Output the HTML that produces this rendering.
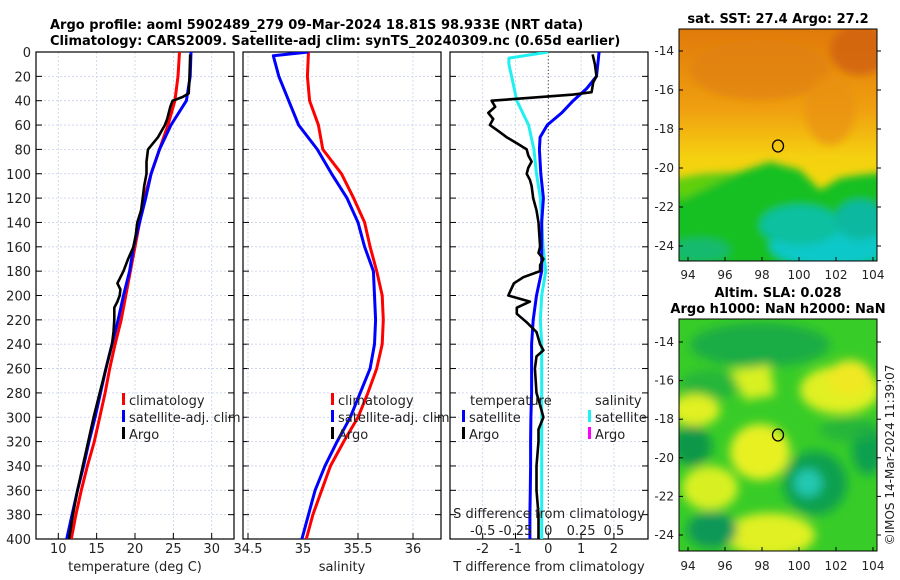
<!DOCTYPE html>
<html><head><meta charset="utf-8"><style>
html,body{margin:0;padding:0;background:#fff;}
svg{display:block;font-family:"DejaVu Sans","Liberation Sans",sans-serif;}
</style></head><body>
<svg id="fig" width="900" height="580" viewBox="0 0 900 580">
<defs>
<filter id="blur3" x="-10%" y="-10%" width="120%" height="120%"><feGaussianBlur stdDeviation="4"/></filter>
<filter id="blur6" x="-10%" y="-10%" width="120%" height="120%"><feGaussianBlur stdDeviation="5"/></filter>
<clipPath id="clipMap1"><rect x="679" y="29" width="198" height="232"/></clipPath>
<clipPath id="clipMap2"><rect x="679" y="319" width="198" height="232"/></clipPath>
<clipPath id="clipP1"><rect x="36" y="52" width="198" height="487"/></clipPath>
<clipPath id="clipP2"><rect x="243" y="52" width="198" height="487"/></clipPath>
<clipPath id="clipP3"><rect x="450" y="52" width="198" height="487"/></clipPath>
<linearGradient id="sstGrad" x1="0" y1="0" x2="0" y2="1">
<stop offset="0" stop-color="#e07a0a"/><stop offset="0.35" stop-color="#f0a010"/><stop offset="0.55" stop-color="#f5d010"/><stop offset="1" stop-color="#e8f000"/>
</linearGradient>
</defs>
<g font-weight="bold" font-size="13" fill="#000">
<text x="50" y="29">Argo profile: aoml 5902489_279 09-Mar-2024 18.81S 98.933E (NRT data)</text>
<text x="50" y="45">Climatology: CARS2009. Satellite-adj clim: synTS_20240309.nc (0.65d earlier)</text>
<text x="778" y="23" text-anchor="middle">sat. SST: 27.4 Argo: 27.2</text>
<text x="778" y="297" text-anchor="middle">Altim. SLA: 0.028</text>
<text x="778" y="313" text-anchor="middle">Argo h1000: NaN h2000: NaN</text>
</g>
<g id="panels"></g>
<g id="maps">
 <g clip-path="url(#clipMap1)">
  <rect x="679" y="29" width="198" height="232" fill="url(#sstGrad)"/>
  <g filter="url(#blur3)">
   <ellipse cx="760" cy="70" rx="70" ry="30" fill="#e08010" opacity="0.7"/>
   <ellipse cx="860" cy="50" rx="30" ry="25" fill="#d06010" opacity="0.8"/>
   <ellipse cx="830" cy="110" rx="25" ry="35" fill="#e89010" opacity="0.7"/>
   <polygon points="670,180 700,175 740,172 770,162 800,170 820,190 840,178 860,175 890,172 890,270 670,270" fill="#18c020"/>
   <polygon points="670,180 720,176 745,170 680,200" fill="#60d010"/>
   <ellipse cx="830" cy="245" rx="60" ry="22" fill="#10c8c8"/>
   <ellipse cx="800" cy="225" rx="40" ry="20" fill="#10c0a0"/>
   <ellipse cx="860" cy="220" rx="25" ry="20" fill="#10b8a0"/>
   <ellipse cx="700" cy="250" rx="30" ry="12" fill="#10b890" opacity="0.7"/>
  </g>
 </g>
 <rect x="679" y="29" width="198" height="232" fill="none" stroke="#000" stroke-width="1"/>
 <ellipse cx="778" cy="146" rx="5.5" ry="6" fill="none" stroke="#000" stroke-width="1.3"/>
 <g clip-path="url(#clipMap2)">
  <rect x="679" y="319" width="198" height="232" fill="#38cc28"/>
  <g filter="url(#blur6)">
   <ellipse cx="760" cy="345" rx="70" ry="22" fill="#18a848" opacity="0.9"/>
   <ellipse cx="710" cy="385" rx="30" ry="15" fill="#20b040" opacity="0.8"/>
   <polygon points="730,370 770,365 775,395 745,400" fill="#d8f020"/>
   <ellipse cx="840" cy="390" rx="40" ry="24" fill="#e0f020"/>
   <ellipse cx="850" cy="378" rx="22" ry="18" fill="#f0e820"/>
   <ellipse cx="695" cy="410" rx="25" ry="16" fill="#e0f020"/>
   <ellipse cx="760" cy="452" rx="30" ry="28" fill="#e8f020"/>
   <ellipse cx="710" cy="488" rx="28" ry="22" fill="#d8f020"/>
   <ellipse cx="770" cy="535" rx="45" ry="22" fill="#e0f020"/>
   <ellipse cx="692" cy="446" rx="20" ry="20" fill="#109848"/>
   <ellipse cx="815" cy="483" rx="32" ry="32" fill="#10a050"/>
   <ellipse cx="808" cy="483" rx="14" ry="14" fill="#20c8b0"/>
   <ellipse cx="712" cy="530" rx="25" ry="18" fill="#109858"/>
   <ellipse cx="868" cy="450" rx="16" ry="25" fill="#10a050"/>
   <ellipse cx="850" cy="430" rx="30" ry="12" fill="#20b040" opacity="0.8"/>
  </g>
 </g>
 <rect x="679" y="319" width="198" height="232" fill="none" stroke="#000" stroke-width="1"/>
 <ellipse cx="778" cy="435" rx="5.5" ry="6" fill="none" stroke="#000" stroke-width="1.3"/>
 <g id="mapTicks" font-size="12" fill="#222"></g>
</g>
<text transform="translate(894,455) rotate(-90)" text-anchor="middle" font-size="12" fill="#222">©IMOS 14-Mar-2024 11:39:07</text>
</svg>
<script>
// ---------- data ----------
const depthTicks = [0,20,40,60,80,100,120,140,160,180,200,220,240,260,280,300,320,340,360,380,400];
const tempTicks = [10,15,20,25,30];
const salTicks = [34.5,35,35.5,36];
const tdiffTicks = [-2,-1,0,1,2];
const sdiffTicks = [-0.5,-0.25,0,0.25,0.5];
const climDepth = [0,20,40,60,80,100,120,140,160,180,200,220,240,260,280,300,320,340,360,380,400];
const climTemp = [25.8,25.6,25.2,24.3,23.2,22.1,21.2,20.6,20.0,19.4,18.8,18.2,17.4,16.7,16.1,15.4,14.7,13.8,13.0,12.3,11.7];
const satTemp = [27.3,27.2,26.7,24.7,23.2,22.1,21.4,20.6,19.8,19.3,18.5,17.8,17.0,16.2,15.5,14.8,14.0,13.3,12.5,11.8,11.1];
const argoDepth = [2,20,34,37,40,45,55,60,70,80,90,100,110,120,130,140,150,160,170,180,190,195,200,205,210,220,230,240,260,280,300,320,340,360,380,400];
const argoTemp = [27.2,27.1,27.0,26.2,24.9,24.6,24.2,23.9,23.0,21.7,21.5,21.5,21.2,21.0,20.8,20.3,20.1,19.8,19.1,18.5,17.7,18.1,18.0,17.7,17.3,17.3,17.2,17.0,16.2,15.4,14.6,13.9,13.2,12.5,11.9,11.4];
const climSal = [35.05,35.04,35.06,35.14,35.18,35.35,35.46,35.56,35.61,35.67,35.72,35.73,35.72,35.67,35.59,35.50,35.37,35.25,35.17,35.09,35.03];
const satSalDepth = [0,3,20,40,60,80,100,120,140,160,180,200,220,240,260,280,300,320,340,360,380,400];
const satSal = [35.05,34.73,34.78,34.87,34.96,35.13,35.26,35.40,35.50,35.56,35.64,35.65,35.66,35.65,35.61,35.52,35.43,35.31,35.20,35.11,35.05,34.99];
const satTdiffDepth = [0,20,30,40,50,60,70,80,100,120,140,160,180,200,220,240,260,280,300,320,340,360,380,400];
const satTdiff = [1.55,1.47,1.17,0.76,0.41,-0.03,-0.25,-0.27,-0.23,-0.15,-0.20,-0.20,-0.20,-0.36,-0.46,-0.51,-0.51,-0.51,-0.53,-0.54,-0.54,-0.55,-0.56,-0.56];
const argoTdiffDepth = [2,10,20,25,33,35,38,40,45,50,55,60,65,70,75,80,85,90,95,100,105,110,120,130,140,160,165,170,175,180,185,190,200,205,210,215,222,230,240,245,250,260,280,290,300,310,320,340,360,380,400];
const argoTdiff = [1.35,1.42,1.47,1.37,1.32,0.76,-0.76,-1.73,-1.62,-1.83,-1.68,-1.78,-1.52,-1.27,-0.96,-0.66,-0.61,-0.51,-0.61,-0.66,-0.56,-0.51,-0.46,-0.36,-0.30,-0.25,-0.30,-0.15,-0.25,-0.25,-0.76,-1.05,-1.22,-0.56,-0.96,-0.96,-0.66,-0.36,-0.25,-0.15,-0.36,-0.41,-0.36,-0.25,-0.15,-0.30,-0.30,-0.36,-0.36,-0.30,-0.30];
const satSdiffDepth = [0,5,10,20,40,60,80,100,120,140,160,180,200,220,240,300,400];
const satSdiff = [0,-0.30,-0.30,-0.28,-0.24,-0.15,-0.11,-0.09,-0.06,-0.05,-0.04,-0.02,-0.05,-0.06,-0.05,-0.05,-0.05];
const lonTicks = [94,96,98,100,102,104];
const latTicks = [-14,-16,-18,-20,-22,-24];

// ---------- scales ----------
const TOP=52, BOT=539;
const yD = d => TOP + d*(BOT-TOP)/400;
const xT = t => 58.3 + (t-10)*7.67;
const xS = s => 248 + (s-34.5)*110;
const xTd = v => 548.3 + v*32.8;
const xSd = v => 548.3 + v*4*32.8;
const lonX = l => 688 + (l-94)*18.5;
const lat1Y = l => 51 + (-14-l)*19.5;
const lat2Y = l => 342 + (-14-l)*19.3;

const NS='http://www.w3.org/2000/svg';
const root=document.getElementById('panels');
function mk(tag, attrs, parent){const e=document.createElementNS(NS,tag);for(const k in attrs)e.setAttribute(k,attrs[k]);(parent||root).appendChild(e);return e;}
function txt(x,y,s,anchor,size,parent){const t=mk('text',{x:x,y:y,'text-anchor':anchor||'start','font-size':size||13,fill:'#222'},parent);t.textContent=s;return t;}
function line(xs,ys,fx,color,w,clip,name){
  const pts=xs.map((v,i)=>fx(v).toFixed(1)+','+yD(ys[i]).toFixed(1)).join(' ');
  const p=mk('polyline',{points:pts,fill:'none',stroke:color,'stroke-width':w,'stroke-linejoin':'round','clip-path':'url(#'+clip+')'});
  
  
  return p;
}
function panel(x0,x1,xticks,fx,clip,name,showY){
  const g=mk('g',{});
  
  
  depthTicks.forEach(d=>{
    mk('line',{x1:x0,x2:x1,y1:yD(d),y2:yD(d),stroke:'#c8d0ec','stroke-width':0.8,'stroke-dasharray':'2,2'},g);
    mk('line',{x1:x0,x2:x0+6,y1:yD(d),y2:yD(d),stroke:'#000','stroke-width':1},g);
    mk('line',{x1:x1-6,x2:x1,y1:yD(d),y2:yD(d),stroke:'#000','stroke-width':1},g);
    if(showY){const t=txt(31,yD(d)+5,String(d),'end',13,g);}
  });
  xticks.forEach(v=>{
    const X=fx(v);
    const zero = v===0 && name==='diff-panel';
    mk('line',{x1:X,x2:X,y1:TOP,y2:BOT,stroke:zero?'#555':'#c8d0ec','stroke-width':zero?1:0.8,'stroke-dasharray':zero?'1.5,2':'2,2'},g);
    mk('line',{x1:X,x2:X,y1:BOT-6,y2:BOT,stroke:'#000','stroke-width':1},g);
    const t=txt(X,553,String(v),'middle',13,g);
    
    
  });
  mk('rect',{x:x0,y:TOP,width:x1-x0,height:BOT-TOP,fill:'none',stroke:'#000','stroke-width':1.2},g);
}
panel(36,234,tempTicks,xT,'clipP1','temperature-panel',true);
panel(243,441,salTicks,xS,'clipP2','salinity-panel',false);
panel(450,648,tdiffTicks,xTd,'clipP3','diff-panel',false);

// series
line(climTemp,climDepth,xT,'#ff0000',3,'clipP1','climatology-temperature-line');
line(satTemp,climDepth,xT,'#0000ff',3,'clipP1','satellite-temperature-line');
line(argoTemp,argoDepth,xT,'#000',2.6,'clipP1','argo-temperature-line');
line(climSal,climDepth,xS,'#ff0000',3,'clipP2','climatology-salinity-line');
line(satSal,satSalDepth,xS,'#0000ff',3,'clipP2','satellite-salinity-line');
line(satSdiff,satSdiffDepth,xSd,'#20f0f0',3,'clipP3','satellite-salinity-diff-line');
line(satTdiff,satTdiffDepth,xTd,'#0000ff',3,'clipP3','satellite-temperature-diff-line');
line(argoTdiff,argoTdiffDepth,xTd,'#000',2.6,'clipP3','argo-temperature-diff-line');

// axis titles
let t;
t=txt(135,571,'temperature (deg C)','middle',13);


t=txt(342,571,'salinity','middle',13);


t=txt(549,571,'T difference from climatology','middle',13);


t=txt(549,518,'S difference from climatology','middle',13);


sdiffTicks.forEach(v=>{
  const e=txt(xSd(v),535,String(v),'middle',13);
  
  
});

// legends
function legItem(x,y,color,label,name){
  const g=mk('g',{});
  
  
  mk('rect',{x:x,y:y-12,width:3,height:12,fill:color},g);
  txt(x+7,y,label,'start',13,g);
}
legItem(122,405,'#ff0000','climatology','legend-climatology');
legItem(122,422,'#0000ff','satellite-adj. clim','legend-satellite-adj');
legItem(122,439,'#000','Argo','legend-argo');
legItem(331,405,'#ff0000','climatology','legend-climatology-sal');
legItem(331,422,'#0000ff','satellite-adj. clim','legend-satellite-adj-sal');
legItem(331,439,'#000','Argo','legend-argo-sal');
t=txt(470,405,'temperature','start',13);


t=txt(595,405,'salinity','start',13);


legItem(462,422,'#0000ff','satellite','legend-temp-satellite');
legItem(462,439,'#000','Argo','legend-temp-argo');
legItem(588,422,'#20f0f0','satellite','legend-sal-satellite');
legItem(588,439,'#ff00ff','Argo','legend-sal-argo');

// map ticks
const mt=document.getElementById('mapTicks');
lonTicks.forEach(l=>{
  [[261,275],[551,566]].forEach(([yb,yl])=>{
    mk('line',{x1:lonX(l),x2:lonX(l),y1:yb-4,y2:yb,stroke:'#000'},mt);
    const e=txt(lonX(l),yl+4,String(l),'middle',12,mt);
    
    
  });
});
latTicks.forEach(l=>{
  [lat1Y(l),lat2Y(l)].forEach(Y=>{
    mk('line',{x1:679,x2:683,y1:Y,y2:Y,stroke:'#000'},mt);
    mk('line',{x1:877,x2:881,y1:Y,y2:Y,stroke:'#000'},mt);
    const e=txt(674,Y+4,String(l),'end',12,mt);
    
    
  });
});
</script>
</body></html>
